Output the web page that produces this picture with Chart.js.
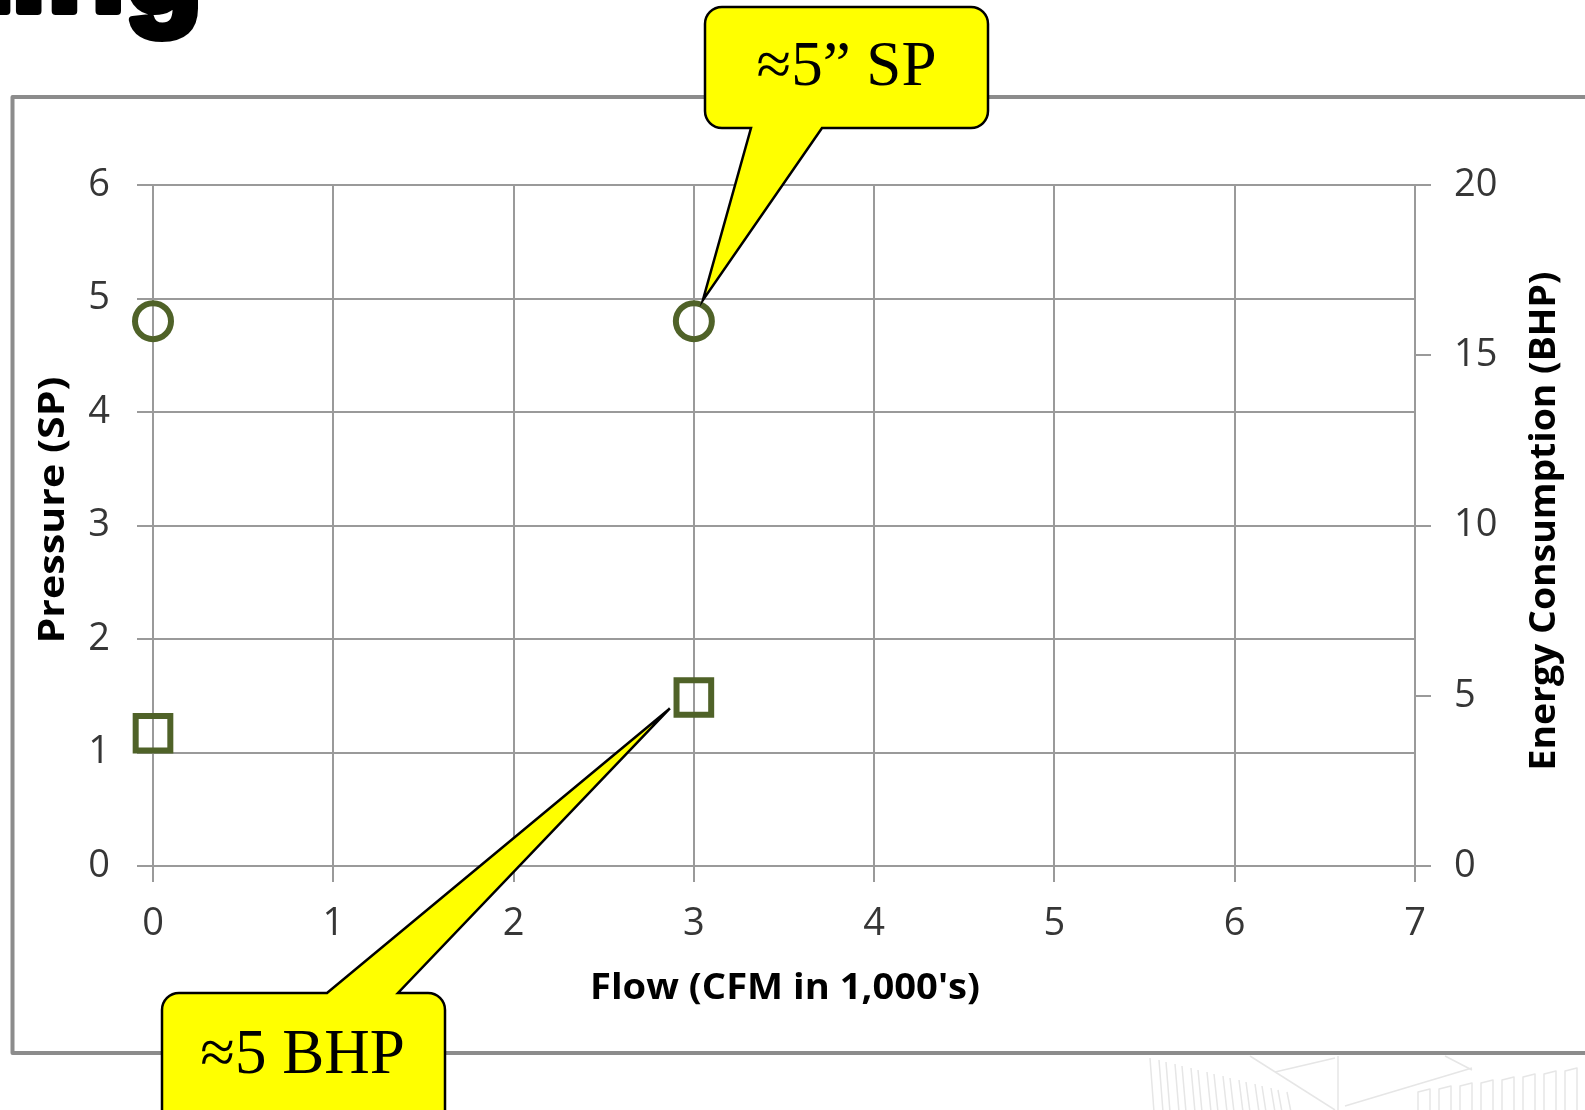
<!DOCTYPE html>
<html>
<head>
<meta charset="utf-8">
<script src="https://cdn.jsdelivr.net/npm/chart.js@4.4.1/dist/chart.umd.min.js"></script>
<style>
  html, body { margin: 0; padding: 0; background: #ffffff; }
  canvas { display: block; }
</style>
</head>
<body>
<canvas id="c" width="1585" height="1110"></canvas>
<script>
// ---- data ----
const flowValues      = [0, 3];          // Flow (CFM in 1,000's)
const pressureSP      = [4.8, 4.8];      // Pressure (SP) – circles, left axis
const energyBHP       = [3.9, 4.95];     // Energy Consumption (BHP) – squares, right axis
const flowTicks       = [0, 1, 2, 3, 4, 5, 6, 7];
const pressureTicks   = [0, 1, 2, 3, 4, 5, 6];
const energyTicks     = [0, 5, 10, 15, 20];
const xTitle          = "Flow (CFM in 1,000's)";
const yTitle          = "Pressure (SP)";
const y2Title         = "Energy Consumption (BHP)";
const calloutTexts    = ["\u22485\u201D SP", "\u22485 BHP"];
const headingFragment = "Sizing";

// ---- styles ----
const W = 1585, H = 1110;
const gridColor = '#9a9a9a';
const olive = '#4F6228';
const tickFont = { family: '"Open Sans", sans-serif', size: 38 };
const tickColor = '#363636';

function fitText(ctx, text, x, y, rot, targetLen, font) {
  ctx.save();
  ctx.translate(x, y);
  ctx.rotate(rot);
  ctx.font = font;
  const w = ctx.measureText(text).width;
  ctx.scale(targetLen / w, 1);
  ctx.textAlign = 'center';
  ctx.textBaseline = 'alphabetic';
  ctx.fillStyle = '#000';
  ctx.fillText(text, 0, 0);
  ctx.restore();
}

function roundCallout(ctx, box, tail, tip, r) {
  const {l, t, rt, b} = box;
  ctx.beginPath();
  ctx.moveTo(l + r, t);
  if (tail.edge === 'top') {
    ctx.lineTo(tail.a, t);
    ctx.lineTo(tip.x, tip.y);
    ctx.lineTo(tail.b, t);
  }
  ctx.lineTo(rt - r, t);
  ctx.arcTo(rt, t, rt, t + r, r);
  ctx.lineTo(rt, b - r);
  ctx.arcTo(rt, b, rt - r, b, r);
  if (tail.edge === 'bottom') {
    ctx.lineTo(tail.b, b);
    ctx.lineTo(tip.x, tip.y);
    ctx.lineTo(tail.a, b);
  }
  ctx.lineTo(l + r, b);
  ctx.arcTo(l, b, l, b - r, r);
  ctx.lineTo(l, t + r);
  ctx.arcTo(l, t, l + r, t, r);
  ctx.closePath();
  ctx.fillStyle = '#FFFF00';
  ctx.fill();
  ctx.lineWidth = 2.5;
  ctx.strokeStyle = '#000';
  ctx.lineJoin = 'miter';
  ctx.stroke();
}

const decoPlugin = {
  id: 'deco',
  beforeDraw(chart) {
    const ctx = chart.ctx;
    ctx.save();
    ctx.fillStyle = '#fff';
    ctx.fillRect(0, 0, W, H);

    // heading fragment (cut by top edge)
    ctx.font = 'bold 128px "Liberation Sans", Arial, sans-serif';
    ctx.textAlign = 'right';
    ctx.textBaseline = 'alphabetic';
    ctx.fillStyle = '#000';
    ctx.strokeStyle = '#000';
    ctx.lineWidth = 8;
    ctx.lineJoin = 'round';
    ctx.strokeText(headingFragment, 203, 11);
    ctx.fillText(headingFragment, 203, 11);

    // chart frame
    ctx.strokeStyle = '#8c8c8c';
    ctx.lineWidth = 4;
    ctx.strokeRect(12.5, 97, 1700, 956);

    // faint background sketch (bottom right)
    ctx.strokeStyle = '#e6e6e6';
    ctx.lineWidth = 1.5;
    for (let i = 0; i < 9; i++) {
      const x0 = 1150 + i * 16, y0 = 1058 + i * 4;
      ctx.beginPath();
      ctx.moveTo(x0, y0); ctx.lineTo(x0 + 4, 1112);
      ctx.moveTo(x0 + 9, y0 + 2); ctx.lineTo(x0 + 13, 1112);
      ctx.stroke();
    }
    ctx.beginPath();
    ctx.moveTo(1250, 1056); ctx.lineTo(1335, 1110);
    ctx.moveTo(1275, 1072); ctx.lineTo(1335, 1058);
    ctx.moveTo(1338, 1056); ctx.lineTo(1338, 1110);
    ctx.moveTo(1345, 1106); ctx.lineTo(1472, 1068);
    ctx.moveTo(1445, 1056); ctx.lineTo(1472, 1070);
    ctx.stroke();
    for (let i = 0; i < 8; i++) {
      const x0 = 1418 + i * 21, y0 = 1092 - i * 3;
      ctx.beginPath();
      ctx.moveTo(x0, 1112); ctx.lineTo(x0, y0); ctx.lineTo(x0 + 12, y0 - 3); ctx.lineTo(x0 + 12, 1112);
      ctx.stroke();
    }
    ctx.restore();
  },
  afterDraw(chart) {
    const ctx = chart.ctx;
    const xs = chart.scales.x, ys = chart.scales.y, ys2 = chart.scales.y2;
    ctx.save();
    // axis titles
    const tFont = 'bold 36px "Open Sans", sans-serif';
    fitText(ctx, xTitle, 785, 999, 0, 390, tFont);
    fitText(ctx, yTitle, 64, 510, -Math.PI / 2, 267, tFont);
    fitText(ctx, y2Title, 1555, 521, -Math.PI / 2, 499, tFont);

    // callouts
    const cx = xs.getPixelForValue(flowValues[1]);
    const cyTop = ys.getPixelForValue(pressureSP[1]);
    const cyBot = ys2.getPixelForValue(energyBHP[1]);
    roundCallout(ctx, {l: 705, t: 7, rt: 988, b: 128}, {edge: 'bottom', a: 751, b: 822},
      {x: cx + 9, y: cyTop - 21}, 17);
    roundCallout(ctx, {l: 162, t: 993, rt: 445, b: 1160}, {edge: 'top', a: 327, b: 398},
      {x: cx - 24, y: cyBot + 11}, 17);

    ctx.fillStyle = '#000';
    ctx.textAlign = 'center';
    ctx.textBaseline = 'alphabetic';
    ctx.font = '63px "Liberation Serif", "Times New Roman", serif';
    ctx.fillText(calloutTexts[0], 846.5, 85);
    ctx.font = '63px "Liberation Serif", "Times New Roman", serif';
    ctx.fillText(calloutTexts[1], 302.5, 1073);
    ctx.restore();
  }
};

const ctx = document.getElementById('c').getContext('2d');
new Chart(ctx, {
  type: 'scatter',
  data: {
    datasets: [
      {
        label: yTitle,
        data: flowValues.map((x, i) => ({x: x, y: pressureSP[i]})),
        yAxisID: 'y',
        pointStyle: 'circle',
        pointRadius: 18,
        pointHoverRadius: 18,
        pointBorderWidth: 6,
        pointBorderColor: olive,
        pointBackgroundColor: 'rgba(0,0,0,0)',
        showLine: false,
        clip: false
      },
      {
        label: y2Title,
        data: flowValues.map((x, i) => ({x: x, y: energyBHP[i]})),
        yAxisID: 'y2',
        pointStyle: 'rect',
        pointRadius: 24.5,
        pointHoverRadius: 24.5,
        pointBorderWidth: 6,
        pointBorderColor: olive,
        pointBackgroundColor: 'rgba(0,0,0,0)',
        showLine: false,
        clip: false
      }
    ]
  },
  options: {
    responsive: false,
    devicePixelRatio: 1,
    animation: false,
    layout: { padding: { left: 0, right: 0, top: 185, bottom: 0 } },
    plugins: { legend: { display: false }, tooltip: { enabled: false } },
    scales: {
      x: {
        type: 'linear', position: 'bottom', min: 0, max: 7,
        afterBuildTicks: s => { s.ticks = flowTicks.map(v => ({value: v})); },
        afterFit: s => { s.height = 244; },
        grid: { color: gridColor, lineWidth: 2, tickLength: 16 },
        border: { color: gridColor, width: 2 },
        ticks: { font: tickFont, color: tickColor, padding: 19, maxRotation: 0, autoSkip: false }
      },
      y: {
        type: 'linear', position: 'left', min: 0, max: 6,
        afterBuildTicks: s => { s.ticks = pressureTicks.map(v => ({value: v})); },
        afterFit: s => { s.width = 153; },
        grid: { color: gridColor, lineWidth: 2, tickLength: 16 },
        border: { color: gridColor, width: 2 },
        ticks: { font: tickFont, color: tickColor, padding: 27, autoSkip: false }
      },
      y2: {
        type: 'linear', position: 'right', min: 0, max: 20,
        afterBuildTicks: s => { s.ticks = energyTicks.map(v => ({value: v})); },
        afterFit: s => { s.width = 170; },
        grid: { color: gridColor, lineWidth: 2, tickLength: 16, drawOnChartArea: false },
        border: { color: gridColor, width: 2 },
        ticks: { font: tickFont, color: tickColor, padding: 23, autoSkip: false }
      }
    }
  },
  plugins: [decoPlugin]
});
</script>
</body>
</html>
